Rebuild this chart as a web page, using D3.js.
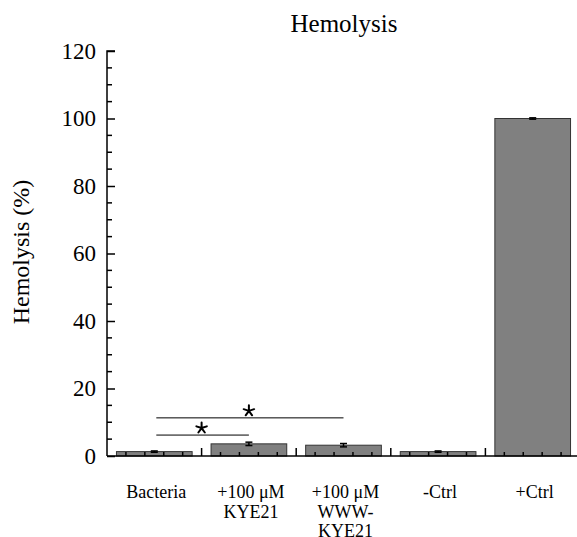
<!DOCTYPE html>
<html>
<head>
<meta charset="utf-8">
<script src="https://cdn.jsdelivr.net/npm/d3@7"></script>
<style>
  html, body { margin: 0; padding: 0; background: #fff; }
  svg { display: block; }
</style>
</head>
<body>
<svg id="chart" width="577" height="537"></svg>
<script>
// Hemolysis (%) per condition, mean and error
const categories = ["Bacteria", "+100 μM KYE21", "+100 μM WWW-KYE21", "-Ctrl", "+Ctrl"];
const categoryLines = [["Bacteria"], ["+100 μM", "KYE21"], ["+100 μM", "WWW-", "KYE21"], ["-Ctrl"], ["+Ctrl"]];
const means = [1.3, 3.6, 3.2, 1.3, 100];
const errors = [0.2, 0.5, 0.5, 0.2, 0.2];
const yTicks = [0, 20, 40, 60, 80, 100, 120];
// significance brackets: from category, to category, bracket height (%)
const sigFrom = [0, 0];
const sigTo = [1, 2];
const sigLevel = [6.2, 11.3];

(function () {
const FONT = "'Liberation Serif', 'Times New Roman', serif";
const svg = d3.select("#chart").attr("font-family", FONT);
const plotLeft = 107, plotRight = 580, plotTop = 51, plotBottom = 456;

const x = d3.scaleBand().domain(categories).range([plotLeft, plotRight])
  .paddingInner(0.2).paddingOuter(0.1);
const y = d3.scaleLinear().domain([0, 120]).range([plotBottom, plotTop]);

// bars
svg.append("g").selectAll("rect").data(categories).join("rect")
  .attr("x", d => x(d))
  .attr("y", (d, i) => y(means[i]))
  .attr("width", x.bandwidth())
  .attr("height", (d, i) => y(0) - y(means[i]))
  .attr("fill", "#808080")
  .attr("stroke", "#333")
  .attr("stroke-width", 1);

// error bars
const eg = svg.append("g").attr("stroke", "#000").attr("stroke-width", 1.5);
categories.forEach((c, i) => {
  const cx = x(c) + x.bandwidth() / 2;
  eg.append("line").attr("x1", cx).attr("x2", cx)
    .attr("y1", y(means[i] - errors[i])).attr("y2", y(means[i] + errors[i]));
  [means[i] - errors[i], means[i] + errors[i]].forEach(v => {
    eg.append("line").attr("x1", cx - 3.5).attr("x2", cx + 3.5)
      .attr("y1", y(v)).attr("y2", y(v));
  });
});

// y axis: major ticks every 20, minor every 5, pointing inward
const yAxis = d3.axisRight(y).tickValues(yTicks).tickSize(8).tickFormat("");
const gy = svg.append("g").attr("transform", `translate(${plotLeft},0)`).call(yAxis);
gy.select(".domain").attr("d", `M8,${plotTop}H0V${plotBottom}`).attr("stroke-width", 1.5);
gy.selectAll(".tick line").attr("stroke-width", 1.5);
const yMinor = d3.range(0, 121, 5).filter(v => v % 20 !== 0);
svg.append("g").selectAll("line").data(yMinor).join("line")
  .attr("x1", plotLeft).attr("x2", plotLeft + 5)
  .attr("y1", d => y(d)).attr("y2", d => y(d))
  .attr("stroke", "#000").attr("stroke-width", 1.5);
svg.append("g").selectAll("text").data(yTicks).join("text")
  .attr("font-family", FONT)
  .attr("x", plotLeft - 11).attr("y", d => y(d)).attr("dy", "0.33em")
  .attr("text-anchor", "end").attr("font-size", 23)
  .text(d => d);

// x axis with group dividers and minor ticks, pointing up
const step = x.step();
const xg = svg.append("g").attr("stroke", "#000").attr("stroke-width", 1.5);
xg.append("line").attr("x1", plotLeft).attr("x2", plotRight).attr("y1", plotBottom).attr("y2", plotBottom);
categories.forEach((c, i) => {
  const g0 = plotLeft + i * step;
  if (i > 0) xg.append("line").attr("x1", g0).attr("x2", g0).attr("y1", plotBottom).attr("y2", plotBottom - 8);
  for (let k = 1; k <= 4; k++) {
    const xx = g0 + k * step / 5;
    xg.append("line").attr("x1", xx).attr("x2", xx).attr("y1", plotBottom).attr("y2", plotBottom - 4);
  }
});

// category labels
categories.forEach((c, i) => {
  const cx = x(c) + x.bandwidth() / 2 + 2;
  const t = svg.append("text")
    .attr("font-family", FONT)
    .attr("x", cx).attr("y", 498)
    .attr("text-anchor", "middle").attr("font-size", 18);
  categoryLines[i].forEach((line, k) => {
    t.append("tspan").attr("x", cx)
      .attr("dy", k === 0 ? 0 : 19.5).text(line);
  });
});

// significance brackets with five-armed asterisks
const armPath = d3.range(5).map(k => {
  const a = -Math.PI / 2 + k * 2 * Math.PI / 5;
  return `M0,0L${(5.5 * Math.cos(a)).toFixed(2)},${(5.5 * Math.sin(a)).toFixed(2)}`;
}).join("");
sigFrom.forEach((a, i) => {
  const x1 = x(categories[a]) + x.bandwidth() / 2;
  const x2 = x(categories[sigTo[i]]) + x.bandwidth() / 2;
  const yy = y(sigLevel[i]);
  svg.append("line").attr("x1", x1 + 2).attr("x2", x2)
    .attr("y1", yy).attr("y2", yy).attr("stroke", "#000").attr("stroke-width", 1);
  svg.append("path").attr("d", armPath)
    .attr("transform", `translate(${(x1 + x2) / 2},${yy - 7})`)
    .attr("stroke", "#000").attr("stroke-width", 2).attr("stroke-linecap", "round")
    .attr("fill", "none");
});

// title and y label
svg.append("text").attr("font-family", FONT).attr("x", 344).attr("y", 32).attr("text-anchor", "middle")
  .attr("font-size", 25).text("Hemolysis");
svg.append("text").attr("font-family", FONT).attr("transform", "translate(29,252) rotate(-90)")
  .attr("text-anchor", "middle").attr("font-size", 24).text("Hemolysis (%)");
})();
</script>
</body>
</html>
